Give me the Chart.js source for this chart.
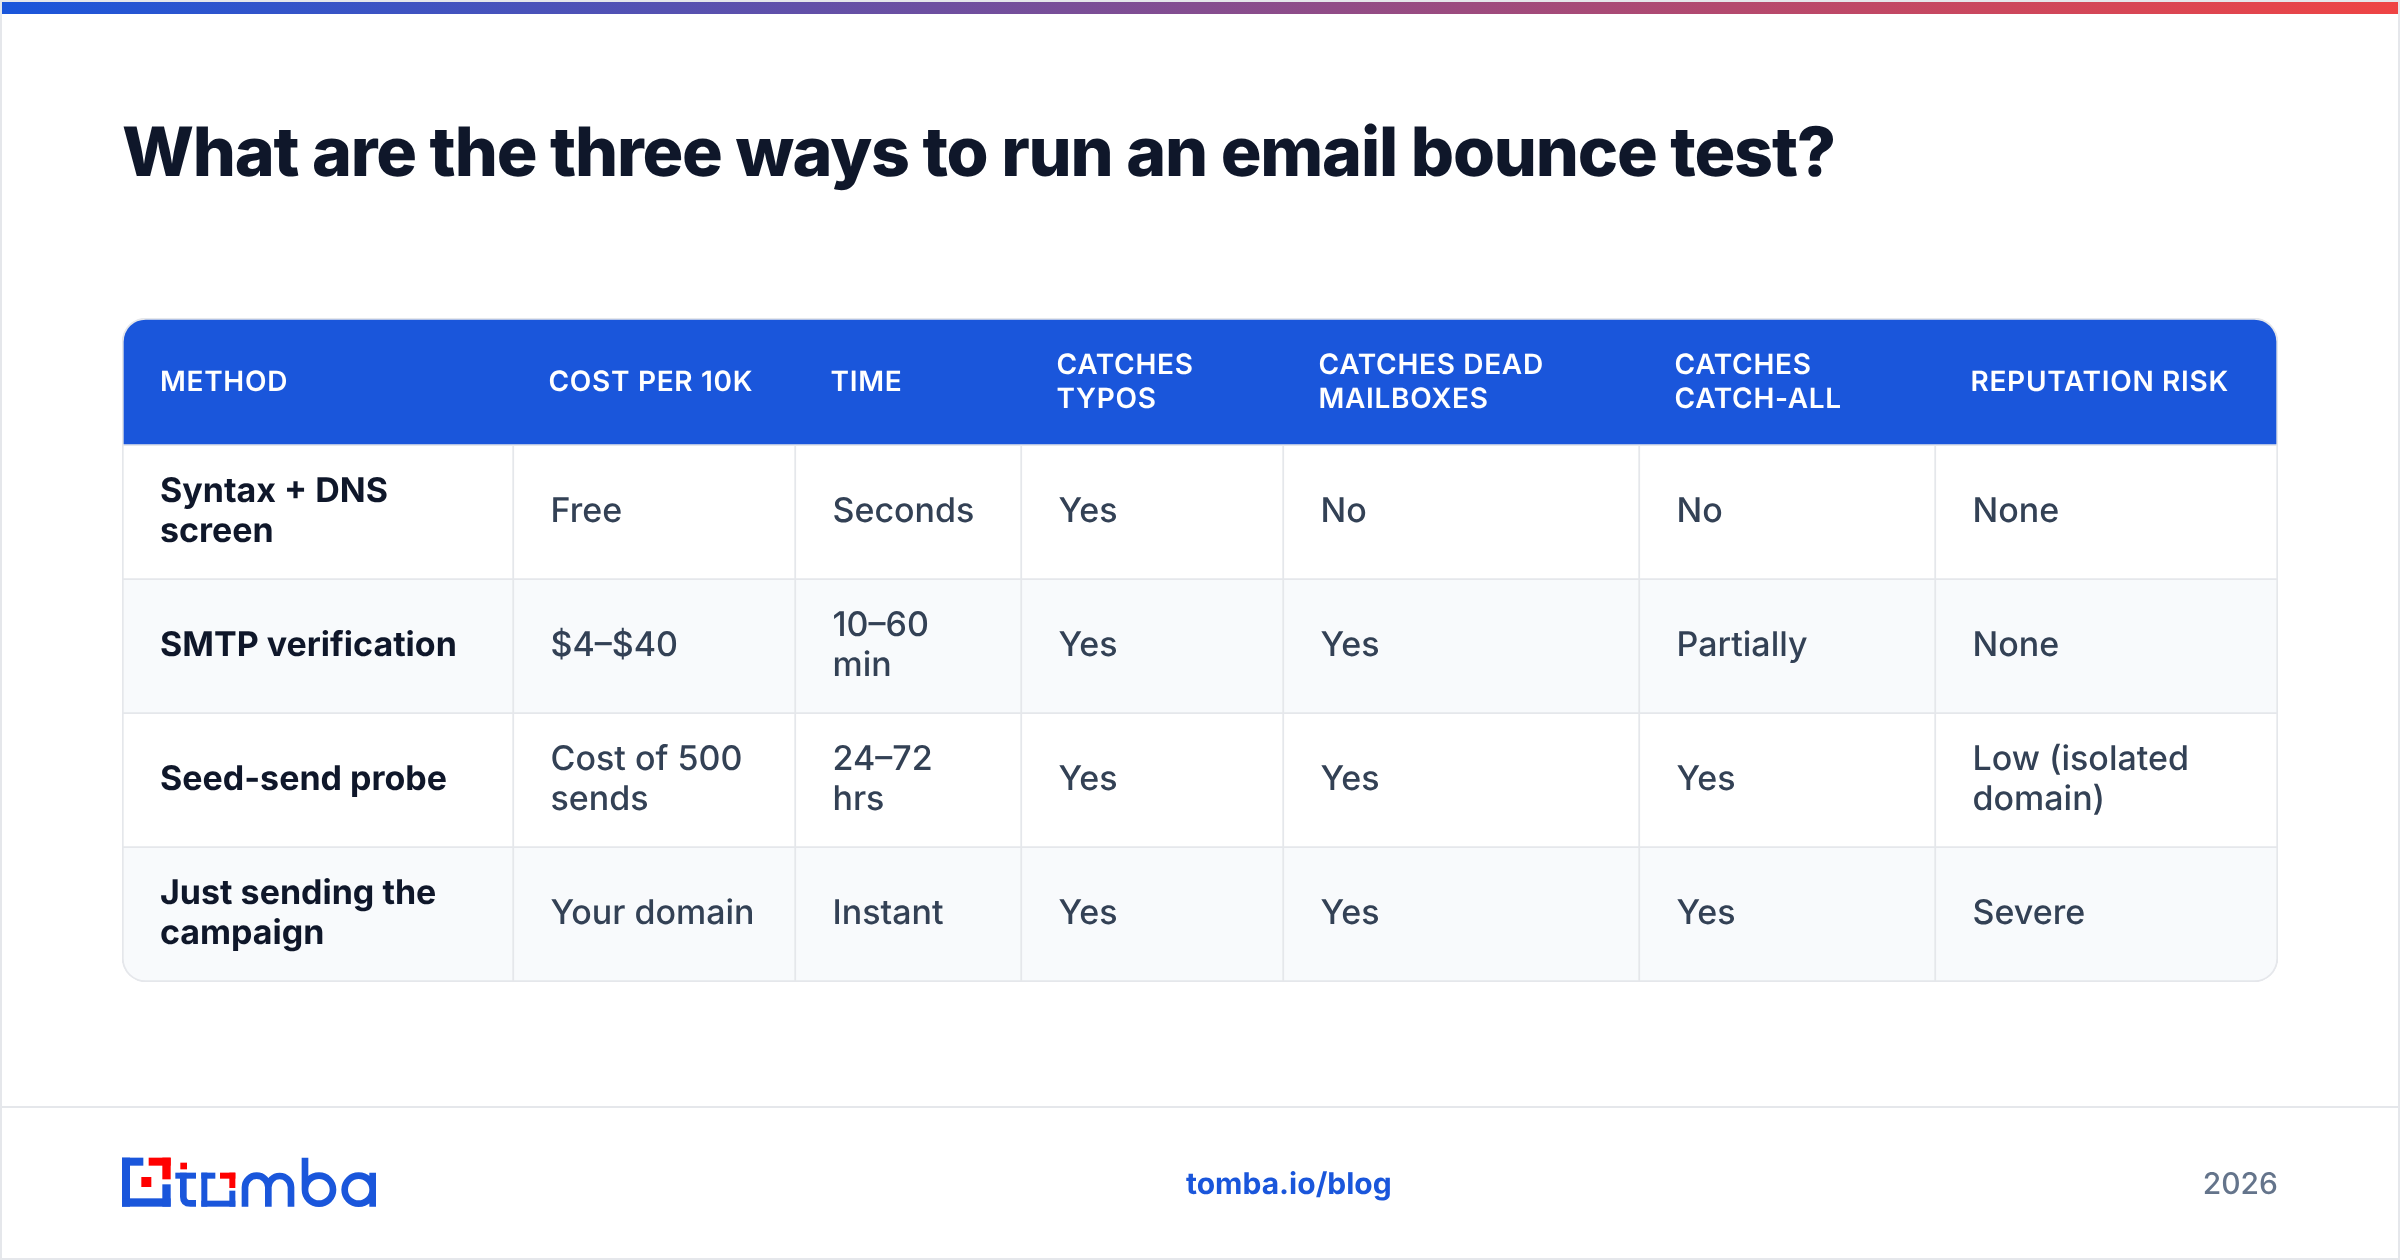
<!DOCTYPE html>
<html>
<head>
<meta charset="utf-8">
<style>
html, body { margin: 0; padding: 0; background: #fff; }
canvas { display: block; }
</style>
<script src="https://cdn.jsdelivr.net/npm/chart.js@4/dist/chart.umd.min.js"></script>
</head>
<body>
<canvas id="table-chart" width="2400" height="1260" style="width:2400px;height:1260px"></canvas>
<script>
var chartTitle = 'What are the three ways to run an email bounce test?';
var columnHeaders = ['METHOD', 'COST PER 10K', 'TIME', 'CATCHES\nTYPOS', 'CATCHES DEAD\nMAILBOXES', 'CATCHES\nCATCH-ALL', 'REPUTATION RISK'];
var methods = ['Syntax + DNS\nscreen', 'SMTP verification', 'Seed-send probe', 'Just sending the\ncampaign'];
var costs = ['Free', '$4–$40', 'Cost of 500\nsends', 'Your domain'];
var times = ['Seconds', '10–60\nmin', '24–72\nhrs', 'Instant'];
var catchesTypos = ['Yes', 'Yes', 'Yes', 'Yes'];
var catchesDead = ['No', 'Yes', 'Yes', 'Yes'];
var catchesCatchAll = ['No', 'Partially', 'Yes', 'Yes'];
var reputationRisk = ['None', 'None', 'Low (isolated\ndomain)', 'Severe'];
var footerLink = 'tomba.io/blog';
var footerYear = '2026';

var bodyColumns = [methods, costs, times, catchesTypos, catchesDead, catchesCatchAll, reputationRisk];
// column widths are layout, not data: they set how long each stacked bar runs on the x scale
var columnWidths = [392, 282, 226, 262, 356, 296, 342];
var lineColor = '#e5e7eb';
var headerBlue = '#1a56db';

var datasets = [];
columnHeaders.forEach(function (head, c) {
    var last = columnHeaders.length - 1;
    datasets.push({
        label: head,
        yAxisID: 'yHead',
        stack: 'table',
        data: [columnWidths[c]],
        cellText: [head],
        backgroundColor: headerBlue,
        borderColor: lineColor,
        borderWidth: { top: 2, bottom: 2, left: c === 0 ? 2 : 0, right: c === last ? 2 : 0 },
        borderRadius: { topLeft: c === 0 ? 24 : 0, topRight: c === last ? 24 : 0, bottomLeft: 0, bottomRight: 0 }
    });
    datasets.push({
        label: head,
        yAxisID: 'yBody',
        stack: 'table',
        data: methods.map(function () { return columnWidths[c]; }),
        cellText: bodyColumns[c],
        backgroundColor: methods.map(function (m, r) { return r % 2 ? '#f8fafc' : '#ffffff'; }),
        borderColor: lineColor,
        borderWidth: { top: 0, bottom: 2, left: c === 0 ? 2 : 0, right: 2 },
        borderRadius: function (ctx) {
            var isLast = ctx.dataIndex === methods.length - 1;
            return {
                topLeft: 0, topRight: 0,
                bottomLeft: isLast && c === 0 ? 24 : 0,
                bottomRight: isLast && c === last ? 24 : 0
            };
        }
    });
});

// writes the cell text at the position of each bar the library laid out
var cellTextPlugin = {
    id: 'cellText',
    afterDatasetsDraw: function (chart) {
        var ctx = chart.ctx;
        ctx.save();
        ctx.textBaseline = 'middle';
        ctx.textAlign = 'left';
        chart.data.datasets.forEach(function (ds, d) {
            var isHead = ds.yAxisID === 'yHead';
            var col = Math.floor(d / 2);
            chart.getDatasetMeta(d).data.forEach(function (bar, r) {
                var lines = ds.cellText[r].split('\n');
                var left = Math.min(bar.base, bar.x);
                var x = left + 36.5 + (col === 0 ? 1.5 : 0) - (isHead && col > 0 ? 2 : 0);
                var lineHeight = isHead ? 34 : 40;
                if (isHead) {
                    ctx.font = '600 28px Inter';
                    ctx.fillStyle = '#ffffff';
                    ctx.letterSpacing = '0.7px';
                } else if (col === 0) {
                    ctx.font = '700 34px Inter';
                    ctx.fillStyle = '#0f172a';
                    ctx.letterSpacing = '0px';
                } else {
                    ctx.font = '500 34px Inter';
                    ctx.fillStyle = '#334155';
                    ctx.letterSpacing = '0px';
                }
                var y = bar.y + (isHead ? 0.5 : -1) - (lines.length - 1) * lineHeight / 2;
                lines.forEach(function (line, i) {
                    ctx.fillText(line, x, y + i * lineHeight);
                });
            });
        });
        ctx.restore();
    }
};

function drawLogo(ctx) {
    // traced in a 1200x480 box that sits at (80,1100) and is scaled by 1/3
    ctx.save();
    ctx.translate(80, 1100);
    ctx.scale(1 / 3, 1 / 3);
    ctx.fillStyle = '#1a56db';
    ctx.fillRect(126, 173, 64, 24);
    ctx.fillRect(126, 173, 24, 147);
    ctx.fillRect(126, 295, 146, 25);
    ctx.fillRect(247, 253, 25, 67);
    // t
    ctx.fillRect(286, 218, 62, 18);
    ctx.strokeStyle = '#1a56db';
    ctx.lineWidth = 20;
    ctx.beginPath();
    ctx.moveTo(310, 218);
    ctx.lineTo(310, 290);
    ctx.quadraticCurveTo(310, 310, 331, 310);
    ctx.lineTo(348, 310);
    ctx.stroke();
    // square o
    ctx.fillRect(364, 218, 42, 18);
    ctx.fillRect(364, 218, 18, 102);
    ctx.fillRect(364, 302, 102, 18);
    ctx.fillRect(448, 272, 18, 48);
    // m
    ctx.beginPath();
    ctx.moveTo(495, 320);
    ctx.lineTo(495, 265);
    ctx.arc(530, 262, 35, Math.PI, 0);
    ctx.lineTo(565, 320);
    ctx.moveTo(565, 262);
    ctx.arc(599, 262, 34, Math.PI, 0);
    ctx.lineTo(633, 320);
    ctx.stroke();
    // b
    ctx.beginPath();
    ctx.moveTo(675, 173);
    ctx.lineTo(675, 269);
    ctx.moveTo(675 + 84, 269);
    ctx.arc(717, 269, 42, 0, Math.PI * 2);
    ctx.stroke();
    // a
    ctx.beginPath();
    ctx.arc(836, 269, 42, 0, Math.PI * 2);
    ctx.moveTo(878, 218);
    ctx.lineTo(878, 320);
    ctx.stroke();
    // red parts
    ctx.fillStyle = '#ff0000';
    ctx.fillRect(206, 173, 66, 24);
    ctx.fillRect(247, 173, 25, 65);
    ctx.fillRect(184, 231, 30, 30);
    ctx.fillRect(301, 188, 20, 20);
    ctx.fillRect(420, 218, 46, 18);
    ctx.fillRect(448, 218, 18, 46);
    ctx.restore();
}

// page frame, top gradient strip and footer around the table
var pagePlugin = {
    id: 'page',
    beforeDraw: function (chart) {
        var ctx = chart.ctx;
        ctx.textRendering = 'geometricPrecision';
        ctx.save();
        ctx.fillStyle = '#ffffff';
        ctx.fillRect(0, 0, 2400, 1260);
        ctx.strokeStyle = lineColor;
        ctx.lineWidth = 2;
        ctx.strokeRect(1, 1, 2398, 1258);
        var strip = ctx.createLinearGradient(2, 0, 2398, 0);
        strip.addColorStop(0, '#1a56db');
        strip.addColorStop(1, '#ef4444');
        ctx.fillStyle = strip;
        ctx.fillRect(2, 2, 2396, 12);
        ctx.fillStyle = lineColor;
        ctx.fillRect(2, 1106, 2396, 2);
        drawLogo(ctx);
        ctx.textBaseline = 'middle';
        ctx.font = '700 30px Inter';
        ctx.fillStyle = '#1a56db';
        ctx.textAlign = 'left';
        ctx.fillText(footerLink, 1186, 1185);
        ctx.font = '500 30px Inter';
        ctx.fillStyle = '#64748b';
        ctx.textAlign = 'right';
        ctx.fillText(footerYear, 2278, 1185);
        ctx.restore();
        ctx.letterSpacing = '-1.2px';
    },
    beforeDatasetsDraw: function (chart) {
        chart.ctx.letterSpacing = '0px';
    }
};

new Chart(document.getElementById('table-chart'), {
    type: 'bar',
    data: {
        labels: methods,
        datasets: datasets
    },
    plugins: [pagePlugin, cellTextPlugin],
    options: {
        indexAxis: 'y',
        responsive: false,
        animation: false,
        devicePixelRatio: 1,
        layout: { padding: { left: 122, right: 122, top: 0, bottom: 278 } },
        datasets: { bar: { categoryPercentage: 1, barPercentage: 1, borderSkipped: false, grouped: false } },
        plugins: {
            legend: { display: false },
            tooltip: { enabled: false },
            title: {
                display: true,
                text: chartTitle,
                align: 'start',
                color: '#0f172a',
                font: { family: 'Inter', size: 68, weight: '800', lineHeight: 1 },
                padding: { top: 122, bottom: 128 }
            }
        },
        scales: {
            x: {
                type: 'linear',
                stacked: true,
                display: false,
                min: 0,
                max: columnWidths.reduce(function (a, b) { return a + b; }, 0)
            },
            // the layout places left axes of one stack in reverse order, so the body comes first here
            yBody: {
                type: 'category',
                labels: methods,
                stack: 'table',
                stackWeight: 536,
                stacked: true,
                display: false,
                position: 'left'
            },
            yHead: {
                type: 'category',
                labels: ['header'],
                stack: 'table',
                stackWeight: 128,
                stacked: true,
                display: false,
                position: 'left'
            }
        }
    }
});
</script>
</body>
</html>
